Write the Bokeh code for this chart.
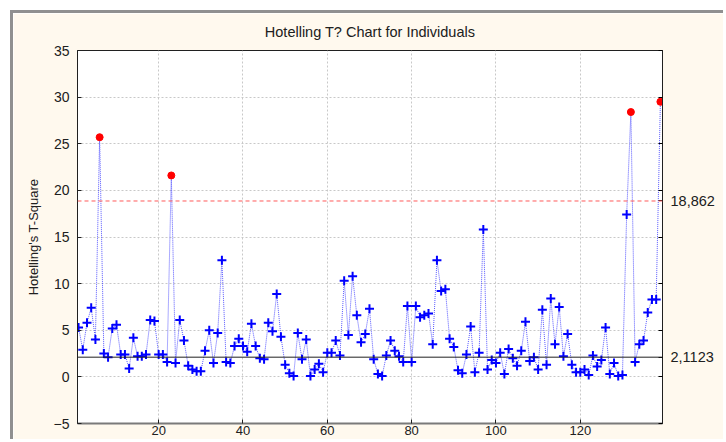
from bokeh.plotting import figure
from bokeh.models import (Range1d, LinearAxis, FixedTicker, CustomJSTickFormatter,
                          Span, ColumnDataSource, CDSView, BooleanFilter)
from bokeh.embed import file_html
from bokeh.resources import INLINE

TITLE = "Hotelling T? Chart for Individuals"
Y_LABEL = "Hotelling's T-Square"

T2 = [5.3, 2.9, 5.8, 7.4, 4.0, 25.7, 2.5, 2.1, 5.2, 5.6,
      2.4, 2.4, 0.9, 4.2, 2.2, 2.2, 2.4, 6.1, 6.0, 2.4,
      2.4, 1.6, 21.6, 1.5, 6.1, 3.9, 1.2, 0.8, 0.6, 0.6,
      2.8, 5.0, 1.5, 4.7, 12.5, 1.6, 1.5, 3.3, 4.1, 3.3,
      2.7, 5.7, 3.3, 2.0, 1.9, 5.8, 4.9, 8.9, 4.3, 1.3,
      0.4, 0.1, 4.7, 1.9, 4.0, 0.1, 0.8, 1.4, 0.5, 2.6,
      2.6, 3.9, 2.3, 10.3, 4.5, 10.8, 6.6, 3.7, 4.6, 7.3,
      1.9, 0.3, 0.1, 2.3, 3.9, 2.8, 2.2, 1.6, 7.6, 1.6,
      7.6, 6.4, 6.6, 6.8, 3.5, 12.5, 9.2, 9.4, 4.1, 3.2,
      0.7, 0.4, 2.4, 5.4, 0.5, 2.6, 15.8, 0.8, 1.8, 1.5,
      2.6, 0.3, 3.0, 2.0, 1.2, 2.8, 5.9, 1.7, 2.1, 0.8,
      7.2, 1.3, 8.4, 3.5, 7.5, 2.2, 4.6, 1.3, 0.5, 0.5,
      0.8, 0.2, 2.3, 1.1, 1.8, 5.3, 0.3, 1.5, 0.1, 0.2,
      17.4, 28.4, 1.6, 3.5, 3.9, 6.9, 8.3, 8.3, 29.5]
OBS = list(range(1, len(T2) + 1))

CENTER = 2.1123
UCL = 18.862
LIMIT_VALUES = [CENTER, UCL]
LIMIT_LABELS = ["2,1123", "18,862"]

X_TICKS = [20, 40, 60, 80, 100, 120]
Y_TICKS = [-5, 0, 5, 10, 15, 20, 25, 30, 35]

FONT = "Liberation Sans"
BG = "#FFF9EE"
INK = "#202020"

source = ColumnDataSource(dict(obs=OBS, t2=T2))
out_mask = [v > UCL for v in T2]
in_view = CDSView(filter=BooleanFilter([not m for m in out_mask]))
out_view = CDSView(filter=BooleanFilter(out_mask))

p = figure(width=713, height=429, output_backend="svg", toolbar_location=None,
           x_range=Range1d(0.75, 139.5), y_range=Range1d(-5, 35),
           min_border_left=64, min_border_right=64, min_border_top=37,
           min_border_bottom=19)
p.styles = {"margin": "10px 0 0 10px",
            "border-left": "3px solid #909090",
            "border-top": "3px solid #909090"}

p.background_fill_color = "white"
p.border_fill_color = BG
p.outline_line_color = INK
p.outline_line_width = 1

p.title.text = TITLE
p.title.align = "center"
p.title.vertical_align = "top"
p.title.text_font = FONT
p.title.text_font_size = "14.5px"
p.title.text_font_style = "normal"
p.title.text_color = INK
p.title.standoff = 18

# grid
for g in (p.xgrid, p.ygrid):
    g.grid_line_color = "#c8c8c8"
    g.grid_line_dash = "2 2"
    g.grid_line_width = 1
p.xgrid.ticker = FixedTicker(ticks=X_TICKS)
p.ygrid.ticker = FixedTicker(ticks=Y_TICKS)

# axes
xa = p.xaxis[0]
xa.ticker = FixedTicker(ticks=X_TICKS)
ya = p.yaxis[0]
ya.ticker = FixedTicker(ticks=Y_TICKS)
ya.axis_label = Y_LABEL
for ax in (xa, ya):
    ax.major_tick_in = 4
    ax.major_tick_out = 0
    ax.minor_tick_line_color = None
    ax.major_label_text_font = FONT
    ax.major_label_text_font_size = "14px"
    ax.major_label_text_color = INK
    ax.major_label_standoff = 8
    ax.axis_line_color = INK
    ax.major_tick_line_color = INK
xa.axis_line_color = "#7a7a7a"
xa.axis_line_width = 2
xa.major_label_text_font_size = "13px"
xa.major_label_standoff = 2
ya.axis_label_text_font = FONT
ya.axis_label_text_font_size = "13px"
ya.axis_label_text_font_style = "normal"
ya.axis_label_text_color = INK
ya.axis_label_standoff = 10

ra = LinearAxis(ticker=FixedTicker(ticks=Y_TICKS + LIMIT_VALUES),
                formatter=CustomJSTickFormatter(
                    args=dict(marks=LIMIT_VALUES, names=LIMIT_LABELS),
                    code="""
for (let i = 0; i < marks.length; i++) {
  if (Math.abs(tick - marks[i]) < 1e-6) return names[i];
}
return "";
"""))
ra.major_tick_in = 4
ra.major_tick_out = 0
ra.minor_tick_line_color = None
ra.major_label_text_font = FONT
ra.major_label_text_font_size = "14.5px"
ra.major_label_text_color = INK
ra.major_label_standoff = 8
ra.axis_line_color = INK
p.add_layout(ra, "right")

# limit lines
p.add_layout(Span(location=UCL, dimension="width", line_color="#ff5a5a",
                  line_dash="4 3", line_width=1))
p.add_layout(Span(location=CENTER, dimension="width", line_color=INK,
                  line_width=1))

# series
p.line("obs", "t2", source=source, line_color="#3c3cff", line_dash="1 1",
       line_width=1, line_alpha=0.85)
p.scatter("obs", "t2", source=source, view=in_view, marker="cross", size=9,
          line_color="#0000ff", line_width=2)
p.scatter("obs", "t2", source=source, view=out_view, marker="circle", size=7,
          fill_color="#ff0000", line_color="#ff0000")

open("out.html", "w").write(file_html(p, INLINE))
